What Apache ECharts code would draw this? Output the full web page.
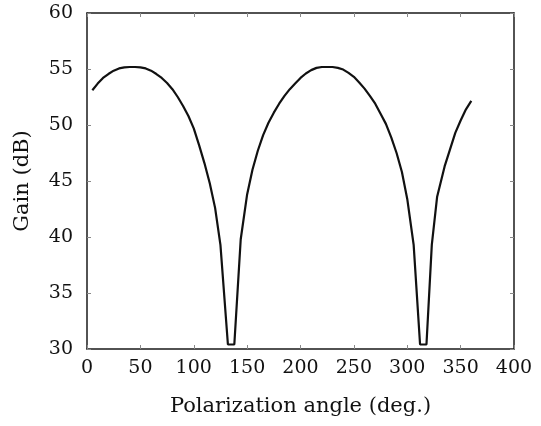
<!DOCTYPE html>
<html>
<head>
<meta charset="utf-8">
<script src="https://cdn.jsdelivr.net/npm/echarts@6/dist/echarts.min.js"></script>
<style>
  html, body { margin: 0; padding: 0; background: #fff; }
  #chart { width: 541px; height: 426px; }
</style>
</head>
<body>
<div id="chart"></div>
<script>
// polarization angle (deg.) and gain (dB)
const angles = [5, 10, 15, 20, 25, 30, 35, 40, 45, 50, 55, 60, 65, 70, 75, 80, 85, 90, 95, 100,
  105, 110, 115, 120, 125, 132, 138, 144, 150, 155, 160, 165, 170, 175, 180, 185, 190, 195, 200,
  205, 210, 215, 220, 225, 230, 235, 240, 245, 250, 255, 260, 265, 270, 275, 280, 285, 290, 295,
  300, 306, 312, 318, 323, 328, 335, 340, 345, 350, 355, 360]
const gain = [53.1, 53.7, 54.2, 54.55, 54.85, 55.05, 55.15, 55.18, 55.18, 55.15, 55.05, 54.85, 54.55, 54.2, 53.75, 53.2, 52.5, 51.7, 50.8, 49.7,
  48.2, 46.6, 44.8, 42.6, 39.3, 30.4, 30.4, 39.8, 43.8, 46.0, 47.7, 49.1, 50.2, 51.1, 51.9, 52.6, 53.2, 53.7, 54.2,
  54.6, 54.9, 55.1, 55.18, 55.18, 55.18, 55.1, 54.95, 54.65, 54.3, 53.8, 53.25, 52.6, 51.9, 51.0, 50.1, 48.9, 47.5, 45.8,
  43.4, 39.3, 30.4, 30.4, 39.3, 43.6, 46.3, 47.8, 49.3, 50.4, 51.4, 52.15]
const xTicks = [0, 50, 100, 150, 200, 250, 300, 350, 400]
const yTicks = [30, 35, 40, 45, 50, 55, 60]

const font = 'DejaVu Serif'
const axisColor = '#1a1a1a'

const chart = echarts.init(document.getElementById('chart'), null, { renderer: 'canvas' })

const baseAxis = {
  axisLine: { show: true, onZero: false, lineStyle: { color: axisColor, width: 1.5 } },
  axisTick: { show: true, inside: true, length: 4, lineStyle: { color: '#888', width: 1 } },
  splitLine: { show: false }
}

chart.setOption({
  animation: false,
  backgroundColor: '#fff',
  grid: { left: 87, right: 27, top: 13, bottom: 77 },
  xAxis: [
    {
      ...baseAxis,
      type: 'value',
      min: xTicks[0],
      max: xTicks[xTicks.length - 1],
      interval: 50,
      name: 'Polarization angle (deg.)',
      nameLocation: 'middle',
      nameGap: 47,
      nameTextStyle: { fontFamily: font, fontSize: 21, color: '#111' },
      axisLabel: { fontFamily: font, fontSize: 19, color: '#111', margin: 10 }
    },
    {
      ...baseAxis,
      type: 'value',
      position: 'top',
      min: xTicks[0],
      max: xTicks[xTicks.length - 1],
      interval: 50,
      axisLabel: { show: false }
    }
  ],
  yAxis: [
    {
      ...baseAxis,
      type: 'value',
      min: yTicks[0],
      max: yTicks[yTicks.length - 1],
      interval: 5,
      name: 'Gain (dB)',
      nameLocation: 'middle',
      nameGap: 54,
      nameTextStyle: { fontFamily: font, fontSize: 21, color: '#111' },
      axisLabel: { fontFamily: font, fontSize: 19, color: '#111', margin: 14 }
    },
    {
      ...baseAxis,
      type: 'value',
      position: 'right',
      min: yTicks[0],
      max: yTicks[yTicks.length - 1],
      interval: 5,
      axisLabel: { show: false }
    }
  ],
  series: [
    {
      type: 'line',
      data: angles.map((a, i) => [a, gain[i]]),
      showSymbol: false,
      smooth: false,
      lineStyle: { color: '#111', width: 2.2 }
    }
  ]
})
</script>
</body>
</html>
